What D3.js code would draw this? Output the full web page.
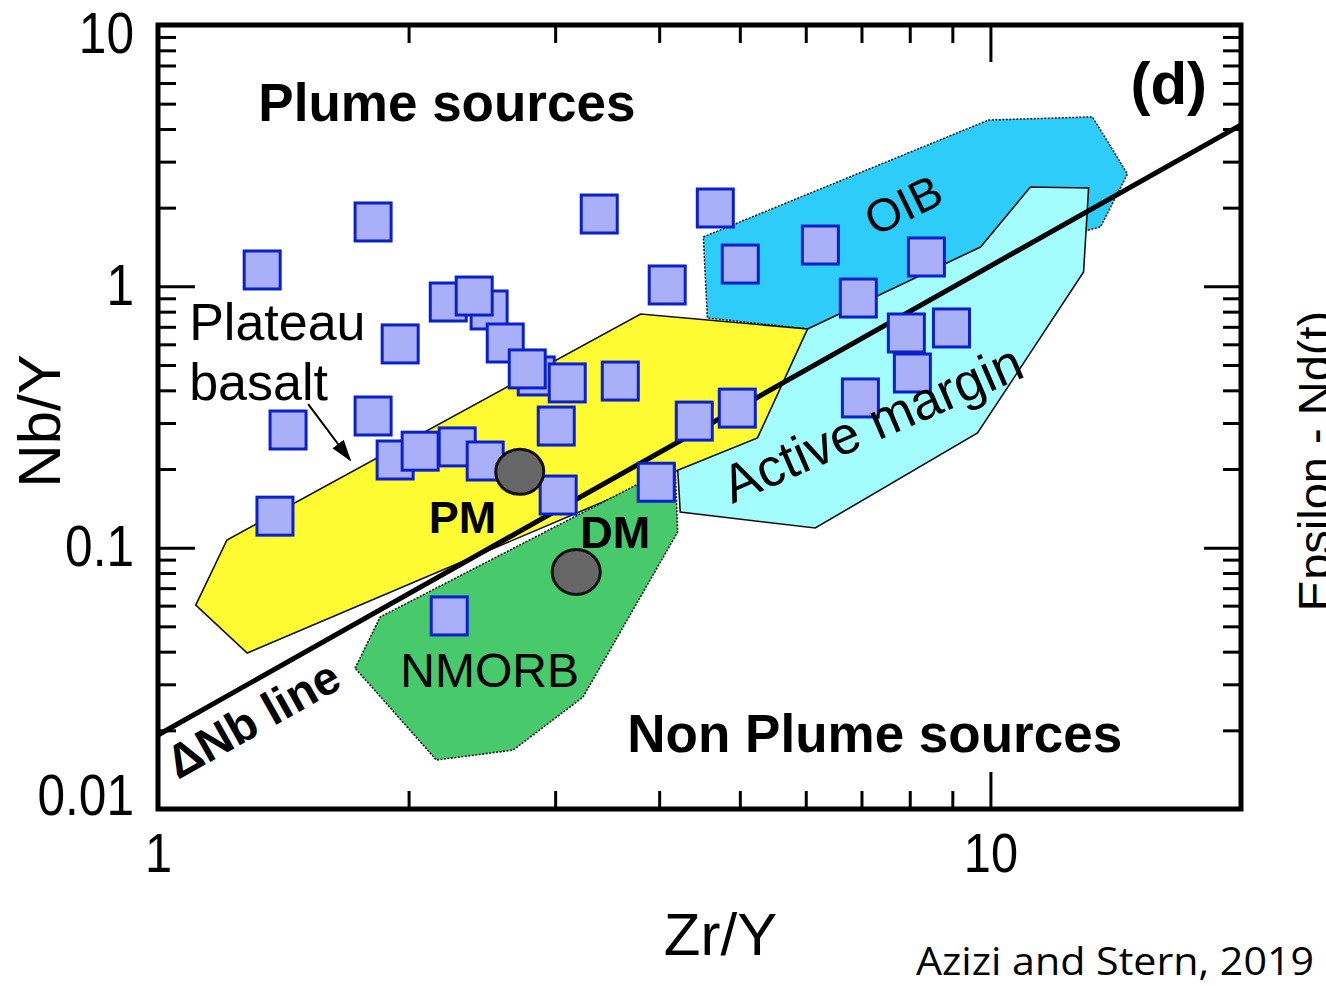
<!DOCTYPE html>
<html>
<head>
<meta charset="utf-8">
<script src="https://cdn.jsdelivr.net/npm/d3@7"></script>
<style>
  html, body { margin: 0; padding: 0; background: #fff; }
  svg { display: block; font-family: "Liberation Sans", Arial, Helvetica, sans-serif; }
</style>
</head>
<body>
<svg id="chart" width="1326" height="986"></svg>
<script>
// ---- sample compositions (Zr/Y, Nb/Y) ----
const sampleZrY = [1.334, 1.813, 1.954, 1.433, 1.813, 1.382, 1.927, 2.288, 2.065, 2.472,
                   2.232, 2.499, 2.398, 2.613, 2.847, 2.777, 3.102, 3.009, 3.025, 3.592,
                   4.408, 4.965, 3.968, 2.238, 3.389, 4.672, 4.090, 5.006, 6.248, 6.939,
                   8.377, 7.925, 8.979, 8.058, 6.979];
const sampleNbY = [1.155, 1.763, 0.602, 0.282, 0.319, 0.132, 0.2165, 0.243, 0.234, 0.2146,
                   0.871, 0.812, 0.918, 0.607, 0.454, 0.483, 0.427, 0.292, 0.159, 0.434,
                   0.305, 0.342, 0.178, 0.0548, 1.891, 1.994, 1.012, 1.217, 1.439, 0.902,
                   1.295, 0.663, 0.693, 0.466, 0.374];

// ---- mantle reservoirs ----
const reservoirNames = ["PM", "DM"];
const reservoirZrY = [2.72, 3.18];
const reservoirNbY = [0.195, 0.0807];

// ---- field outlines, vertices as [Zr/Y, Nb/Y] ----
const fieldOIB = [[4.52, 1.545], [9.95, 4.33], [13.26, 4.45], [14.61, 2.69], [13.56, 1.687],
                  [13.12, 1.643], [11.81, 1.377], [9.59, 1.239], [6.03, 0.687], [4.57, 0.757]];
const fieldActiveMargin = [[6.03, 0.687], [9.73, 1.414], [11.17, 2.40], [13.12, 2.378], [12.94, 1.134],
                           [9.65, 0.2746], [6.16, 0.1189], [4.24, 0.1369], [4.21, 0.2017]];
const fieldPlateau = [[1.11, 0.0603], [1.21, 0.107], [3.80, 0.784], [6.03, 0.687],
                      [5.25, 0.263], [4.21, 0.198], [1.28, 0.0395]];
const fieldNMORB = [[1.725, 0.0346], [1.849, 0.0543], [4.18, 0.2072], [4.21, 0.1148],
                    [3.24, 0.0268], [2.67, 0.0168], [2.16, 0.0154]];

// ---- ΔNb = 0 reference line ----
const deltaNbLine = [[1, 0.0192], [20, 4.15]];

// ---- axes ----
const xDomain = [1, 20];
const yDomain = [0.01, 10];
const xTickValues = [1, 10];
const xTickLabels = ["1", "10"];
const yTickValues = [0.01, 0.1, 1, 10];
const yTickLabels = ["0.01", "0.1", "1", "10"];

const svg = d3.select("#chart");
const plotLeft = 158, plotRight = 1241, plotTop = 25, plotBottom = 809;

const x = d3.scaleLog().domain(xDomain).range([plotLeft, plotRight]);
const y = d3.scaleLog().domain(yDomain).range([plotBottom, plotTop]);

const defs = svg.append("defs");
defs.append("clipPath").attr("id", "plotClip")
  .append("rect").attr("x", plotLeft).attr("y", plotTop)
  .attr("width", plotRight - plotLeft).attr("height", plotBottom - plotTop);

defs.append("marker")
  .attr("id", "arrowHead")
  .attr("markerUnits", "userSpaceOnUse")
  .attr("markerWidth", 22).attr("markerHeight", 16)
  .attr("refX", 20).attr("refY", 8)
  .attr("orient", "auto")
  .append("path").attr("d", "M0,1 L22,8 L0,15 Z").attr("fill", "#000");

const plot = svg.append("g").attr("clip-path", "url(#plotClip)");

const fieldLine = d3.line().x(d => x(d[0])).y(d => y(d[1])).curve(d3.curveLinearClosed);

// fields, back to front
plot.append("path").datum(fieldOIB).attr("d", fieldLine)
  .attr("fill", "#2ecdf9").attr("stroke", "#1a1a1a").attr("stroke-width", 1.5)
  .attr("stroke-dasharray", "2,1.5");
plot.append("path").datum(fieldActiveMargin).attr("d", fieldLine)
  .attr("fill", "#a2fdfc").attr("stroke", "#111").attr("stroke-width", 1.6);
plot.append("path").datum(fieldPlateau).attr("d", fieldLine)
  .attr("fill", "#fffb33").attr("stroke", "#111").attr("stroke-width", 1.6);
plot.append("path").datum(fieldNMORB).attr("d", fieldLine)
  .attr("fill", "#48c96b").attr("stroke", "#1a1a1a").attr("stroke-width", 1.6)
  .attr("stroke-dasharray", "2,1.5");

// ΔNb line
plot.append("path").datum(deltaNbLine)
  .attr("d", d3.line().x(d => x(d[0])).y(d => y(d[1])))
  .attr("fill", "none").attr("stroke", "#000").attr("stroke-width", 5);

// samples
const samples = sampleZrY.map((v, i) => ({ zr: v, nb: sampleNbY[i] }));
const sqW = 36, sqH = 38;
plot.append("g").selectAll("rect").data(samples).join("rect")
  .attr("x", d => x(d.zr) - sqW / 2).attr("y", d => y(d.nb) - sqH / 2)
  .attr("width", sqW).attr("height", sqH)
  .attr("fill", "#aab0f8").attr("stroke", "#0a20cc").attr("stroke-width", 3);

// mantle reservoirs
const reservoirs = reservoirNames.map((n, i) => ({ name: n, zr: reservoirZrY[i], nb: reservoirNbY[i] }));
plot.append("g").selectAll("ellipse").data(reservoirs).join("ellipse")
  .attr("cx", d => x(d.zr)).attr("cy", d => y(d.nb))
  .attr("rx", 24).attr("ry", 22.5)
  .attr("fill", "#666").attr("stroke", "#111").attr("stroke-width", 3);

// ---- labels inside the plot ----
const lab = svg.append("g").attr("fill", "#000");
function label(text, zr, nb, opts) {
  const t = lab.append("text").attr("x", x(zr)).attr("y", y(nb)).text(text)
    .attr("font-size", opts.size).attr("font-weight", opts.bold ? "bold" : "normal")
    .attr("text-anchor", opts.anchor || "start");
  if (opts.angle) t.attr("transform", `rotate(${opts.angle},${x(zr)},${y(nb)})`);
  return t;
}
label("Plume sources", 1.32, 4.29, { size: 53, bold: true });
label("(d)", 14.73, 4.985, { size: 60, bold: true });
label("Non Plume sources", 3.663, 0.01652, { size: 53, bold: true });
label("PM", 2.115, 0.1138, { size: 45, bold: true });
label("DM", 3.215, 0.0997, { size: 45, bold: true });
label("NMORB", 1.955, 0.0293, { size: 48 });
label("Plateau", 1.09, 0.6233, { size: 52 });
label("basalt", 1.09, 0.3673, { size: 52 });
label("OIB", 7.86, 2.047, { size: 46, anchor: "middle", angle: -26 }).attr("dy", "0.35em");
label("Active margin", 4.897, 0.1469, { size: 53, angle: -23.5 });

const lineAngle = Math.atan2(y(deltaNbLine[1][1]) - y(deltaNbLine[0][1]),
                             x(deltaNbLine[1][0]) - x(deltaNbLine[0][0])) * 180 / Math.PI;
label("ΔNb line", 1.057, 0.0129, { size: 47, bold: true, angle: lineAngle });

// arrow to the plateau basalt field
lab.append("line")
  .attr("x1", x(1.515)).attr("y1", y(0.3545))
  .attr("x2", x(1.701)).attr("y2", y(0.2165))
  .attr("stroke", "#000").attr("stroke-width", 2)
  .attr("marker-end", "url(#arrowHead)");

// ---- axes: major and minor ticks on all four sides, pointing inward ----
const majorLen = 37, minorLen = 18;
const xMinor = x.ticks().filter(v => !xTickValues.includes(v));
const yMinor = y.ticks().filter(v => !yTickValues.some(t => Math.abs(t - v) < 1e-9));

function styleAxis(g) {
  g.select(".domain").remove();
  g.selectAll(".tick line").attr("stroke", "#000").attr("stroke-width", 3);
  g.selectAll(".tick text").attr("fill", "#000");
}

// bottom
svg.append("g").attr("transform", `translate(0,${plotBottom})`)
  .call(d3.axisBottom(x).tickValues(xMinor).tickSizeInner(-minorLen).tickSizeOuter(0).tickFormat(""))
  .call(styleAxis);
const xAxis = svg.append("g").attr("transform", `translate(0,${plotBottom})`)
  .call(d3.axisBottom(x).tickValues(xTickValues).tickSizeInner(-majorLen).tickSizeOuter(0)
        .tickPadding(23).tickFormat((d, i) => xTickLabels[i]))
  .call(styleAxis);
xAxis.selectAll(".tick text").attr("font-size", 56).attr("font-family", "Liberation Sans, Arial, sans-serif");

// top
svg.append("g").attr("transform", `translate(0,${plotTop})`)
  .call(d3.axisTop(x).tickValues(xMinor).tickSizeInner(-minorLen).tickSizeOuter(0).tickFormat(""))
  .call(styleAxis);
svg.append("g").attr("transform", `translate(0,${plotTop})`)
  .call(d3.axisTop(x).tickValues(xTickValues).tickSizeInner(-majorLen).tickSizeOuter(0).tickFormat(""))
  .call(styleAxis);

// left
svg.append("g").attr("transform", `translate(${plotLeft},0)`)
  .call(d3.axisLeft(y).tickValues(yMinor).tickSizeInner(-minorLen).tickSizeOuter(0).tickFormat(""))
  .call(styleAxis);
const yAxis = svg.append("g").attr("transform", `translate(${plotLeft},0)`)
  .call(d3.axisLeft(y).tickValues(yTickValues).tickSizeInner(-majorLen).tickSizeOuter(0)
        .tickPadding(24).tickFormat((d, i) => yTickLabels[i]))
  .call(styleAxis);
yAxis.selectAll(".tick text").attr("font-size", 57).attr("font-family", "Liberation Sans, Arial, sans-serif")
  .attr("transform", d => {
    const py = y(d);
    const c = Math.min(Math.max(py, plotTop + 9), plotBottom - 13);
    return `translate(0,${c - py})`;
  });

// right
svg.append("g").attr("transform", `translate(${plotRight},0)`)
  .call(d3.axisRight(y).tickValues(yMinor).tickSizeInner(-minorLen).tickSizeOuter(0).tickFormat(""))
  .call(styleAxis);
svg.append("g").attr("transform", `translate(${plotRight},0)`)
  .call(d3.axisRight(y).tickValues(yTickValues).tickSizeInner(-majorLen).tickSizeOuter(0).tickFormat(""))
  .call(styleAxis);

// narrow the tick numerals slightly
svg.selectAll(".tick text").each(function () {
  const w = this.getComputedTextLength();
  if (w > 0) d3.select(this).attr("textLength", w * 0.87).attr("lengthAdjust", "spacingAndGlyphs");
});

// frame
svg.append("rect").attr("x", plotLeft).attr("y", plotTop)
  .attr("width", plotRight - plotLeft).attr("height", plotBottom - plotTop)
  .attr("fill", "none").attr("stroke", "#000").attr("stroke-width", 5);

// axis titles
svg.append("text").attr("x", (plotLeft + plotRight) / 2 + 21).attr("y", 955)
  .attr("text-anchor", "middle").attr("font-size", 60).text("Zr/Y");
svg.append("text").attr("transform", `translate(60,${(plotTop + plotBottom) / 2 + 4}) rotate(-90)`)
  .attr("text-anchor", "middle").attr("font-size", 60).text("Nb/Y");

// neighbouring panel's axis title, cut by the page edge
svg.append("text").attr("transform", "translate(1331,461) rotate(-90)")
  .attr("text-anchor", "middle").attr("font-size", 47).text("Epsilon - Nd(t)");

// source
svg.append("text").attr("x", 916).attr("y", 975)
  .attr("font-family", "'Open Sans', 'Noto Sans', sans-serif").attr("font-size", 37.5)
  .attr("textLength", 398).attr("lengthAdjust", "spacingAndGlyphs")
  .text("Azizi and Stern, 2019");
</script>
</body>
</html>
